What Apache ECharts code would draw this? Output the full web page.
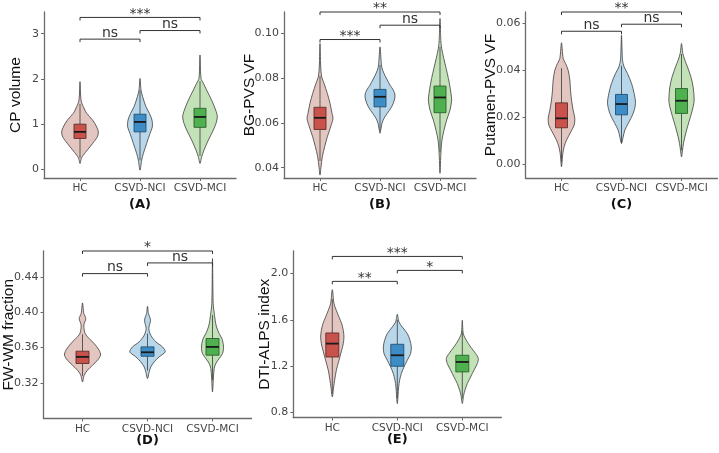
<!DOCTYPE html>
<html><head><meta charset="utf-8">
<script src="https://cdn.jsdelivr.net/npm/echarts@6/dist/echarts.min.js"></script>
<style>html,body{margin:0;padding:0;background:#fff}#c{width:719px;height:453px}</style>
</head><body><div id="c"></div>
<script>
// ---------- data ----------
const categories = ['HC', 'CSVD-NCI', 'CSVD-MCI'];
const panelLabels = ['(A)', '(B)', '(C)', '(D)', '(E)'];
const yTitles = ['CP volume', 'BG-PVS VF', 'Putamen-PVS VF', 'FW-WM fraction', 'DTI-ALPS index'];

const yTicksA = [0, 1, 2, 3];
const yTicksB = [0.04, 0.06, 0.08, 0.10];
const yTicksC = [0.00, 0.02, 0.04, 0.06];
const yTicksD = [0.32, 0.36, 0.40, 0.44];
const yTicksE = [0.8, 1.2, 1.6, 2.0];

// violin outlines: [value, half-width in category units]
const violinA_HC  = [[0.13,0],[0.243,0.022],[0.316,0.056],[0.427,0.122],[0.575,0.211],[0.72,0.289],[0.83,0.306],[0.94,0.278],[1.09,0.211],[1.24,0.111],[1.385,0.056],[1.53,0.017],[1.94,0]];
const violinA_NCI = [[-0.015,0],[0.206,0.028],[0.354,0.056],[0.575,0.111],[0.796,0.167],[0.94,0.206],[1.09,0.2],[1.24,0.156],[1.385,0.1],[1.606,0.044],[1.754,0.017],[2.01,0]];
const violinA_MCI = [[0.13,0],[0.279,0.028],[0.427,0.067],[0.648,0.139],[0.869,0.222],[1.018,0.267],[1.164,0.289],[1.312,0.261],[1.53,0.194],[1.754,0.111],[1.903,0.056],[2.013,0.017],[2.53,0]];

const violinB_HC  = [[0.0367,0],[0.0404,0.017],[0.0449,0.039],[0.0494,0.078],[0.0538,0.122],[0.0583,0.178],[0.0621,0.217],[0.0643,0.2],[0.0688,0.167],[0.0732,0.122],[0.0777,0.067],[0.0806,0.028],[0.085,0.012],[0.0955,0]];
const violinB_NCI = [[0.0554,0],[0.0576,0.017],[0.0598,0.033],[0.0621,0.067],[0.0643,0.122],[0.0672,0.194],[0.0702,0.239],[0.0725,0.25],[0.0747,0.222],[0.0769,0.167],[0.0792,0.122],[0.0821,0.067],[0.0851,0.028],[0.094,0]];
const violinB_MCI = [[0.0375,0],[0.0479,0.017],[0.0524,0.033],[0.0568,0.067],[0.0613,0.111],[0.0658,0.167],[0.0702,0.194],[0.0732,0.183],[0.0777,0.156],[0.0821,0.122],[0.0866,0.083],[0.0911,0.044],[0.0955,0.017],[0.1067,0]];

const violinC_HC  = [[-0.001,0],[0.0047,0.022],[0.0075,0.044],[0.0103,0.083],[0.0139,0.156],[0.0167,0.211],[0.0196,0.222],[0.0231,0.194],[0.0274,0.167],[0.0316,0.15],[0.0359,0.139],[0.0401,0.111],[0.0430,0.067],[0.0451,0.028],[0.0518,0]];
const violinC_NCI = [[0.0089,0],[0.0117,0.028],[0.0146,0.056],[0.0174,0.111],[0.0217,0.194],[0.0260,0.233],[0.0302,0.211],[0.0345,0.167],[0.0387,0.1],[0.0415,0.044],[0.0444,0.017],[0.055,0]];
const violinC_MCI = [[0.0032,0],[0.0061,0.017],[0.0089,0.033],[0.0117,0.056],[0.0160,0.1],[0.0203,0.15],[0.0245,0.194],[0.0274,0.211],[0.0330,0.194],[0.0373,0.156],[0.0415,0.1],[0.0444,0.056],[0.0472,0.022],[0.0515,0]];

const violinD_HC  = [[0.3211,0],[0.3287,0.026],[0.3344,0.077],[0.3400,0.154],[0.3457,0.231],[0.3514,0.277],[0.3570,0.256],[0.3646,0.179],[0.3703,0.103],[0.3759,0.041],[0.3854,0.021],[0.3929,0.051],[0.3986,0.021],[0.4106,0]];
const violinD_NCI = [[0.3249,0],[0.3325,0.026],[0.3381,0.051],[0.3438,0.103],[0.3495,0.179],[0.3551,0.272],[0.3608,0.231],[0.3665,0.128],[0.3740,0.051],[0.3816,0.021],[0.3910,0.046],[0.3986,0.015],[0.4068,0]];
const violinD_MCI = [[0.3098,0],[0.3268,0.015],[0.3363,0.026],[0.3420,0.051],[0.3476,0.103],[0.3532,0.154],[0.3589,0.169],[0.3646,0.164],[0.3703,0.144],[0.3759,0.103],[0.3834,0.062],[0.3910,0.041],[0.4023,0.021],[0.4099,0.01],[0.4608,0]];

const violinE_HC  = [[0.932,0],[1.019,0.021],[1.077,0.036],[1.163,0.062],[1.250,0.103],[1.336,0.144],[1.394,0.169],[1.451,0.179],[1.509,0.169],[1.567,0.144],[1.624,0.103],[1.682,0.062],[1.740,0.026],[1.861,0]];
const violinE_NCI = [[0.875,0],[1.019,0.021],[1.077,0.036],[1.135,0.062],[1.192,0.103],[1.250,0.154],[1.308,0.205],[1.365,0.215],[1.423,0.195],[1.481,0.154],[1.538,0.077],[1.581,0.026],[1.648,0]];
const violinE_MCI = [[0.875,0],[0.947,0.021],[0.990,0.041],[1.048,0.077],[1.105,0.128],[1.163,0.179],[1.221,0.231],[1.265,0.246],[1.308,0.205],[1.365,0.128],[1.423,0.062],[1.481,0.015],[1.596,0]];

// box stats: [whisker low, Q1, median, Q3, whisker high]
const boxA = [[0.25,0.685,0.83,1.0,1.45],[0.2,0.83,1.05,1.22,1.75],[0.3,0.93,1.16,1.35,1.95]];
const boxB = [[0.043,0.0571,0.0623,0.0670,0.081],[0.0565,0.0672,0.0717,0.075,0.086],[0.047,0.0646,0.0714,0.0765,0.094]];
const boxC = [[0.001,0.0156,0.0196,0.0262,0.041],[0.009,0.0211,0.0257,0.0298,0.042],[0.006,0.0217,0.0271,0.0323,0.047]];
const boxD = [[0.328,0.342,0.3495,0.3559,0.375],[0.334,0.3502,0.3547,0.3608,0.376],[0.323,0.3514,0.3608,0.3703,0.397]];
const boxE = [[0.96,1.278,1.394,1.486,1.78],[0.92,1.198,1.293,1.388,1.60],[0.92,1.149,1.235,1.293,1.50]];

// significance brackets (pairs of groups, heights, labels)
const bracketPairs = [[1, 2], [2, 3], [1, 3]];
const bracketYA = [2.88, 3.07, 3.36];     const bracketLabA = ['ns', 'ns', '***'];
const bracketYB = [0.0973, 0.1037, 0.1096]; const bracketLabB = ['***', 'ns', '**'];
const bracketYC = [0.0567, 0.0597, 0.0649]; const bracketLabC = ['ns', 'ns', '**'];
const bracketYD = [0.4438, 0.4559, 0.4694]; const bracketLabD = ['ns', 'ns', '*'];
const bracketYE = [1.933, 2.028, 2.149];    const bracketLabE = ['**', '*', '***'];

// ---------- layout / style ----------
const panels = [
  {grid:{left:44, top:12, width:192, height:166}, ymin:-0.19, ymax:3.48, ticks:yTicksA, dec:0, nameGap:20, labGap:20.5,
   violins:[violinA_HC, violinA_NCI, violinA_MCI], box:boxA, by:bracketYA, bl:bracketLabA},
  {grid:{left:284, top:12, width:192, height:166}, ymin:0.0354, ymax:0.1096, ticks:yTicksB, dec:2, nameGap:26, labGap:20.5,
   violins:[violinB_HC, violinB_NCI, violinB_MCI], box:boxB, by:bracketYB, bl:bracketLabB},
  {grid:{left:525.5, top:12, width:192, height:166}, ymin:-0.0058, ymax:0.0649, ticks:yTicksC, dec:2, nameGap:27, labGap:20.5,
   violins:[violinC_HC, violinC_NCI, violinC_MCI], box:boxC, by:bracketYC, bl:bracketLabC},
  {grid:{left:43.5, top:251, width:208, height:167.5}, ymin:0.2797, ymax:0.4694, ticks:yTicksD, dec:2, nameGap:26.5, labGap:15.5,
   violins:[violinD_HC, violinD_NCI, violinD_MCI], box:boxD, by:bracketYD, bl:bracketLabD},
  {grid:{left:293.3, top:251, width:208, height:166.5}, ymin:0.754, ymax:2.196, ticks:yTicksE, dec:1, nameGap:21, labGap:15.5,
   violins:[violinE_HC, violinE_NCI, violinE_MCI], box:boxE, by:bracketYE, bl:bracketLabE}
];
const violinFill = ['#e4c6c1', '#b8d7ea', '#c3e2b8'];
const boxFill = ['#c9534c', '#3d8cc6', '#4eb04f'];
const boxStroke = ['#5a2f2c', '#24506f', '#2d612e'];
const axisColor = '#6b6b6b';
const tickFont = 'DejaVu Sans';

const grids = [], xAxes = [], yAxes = [], series = [];
panels.forEach((P, i) => {
  grids.push(Object.assign({containLabel:false}, P.grid));
  xAxes.push({
    type:'value', gridIndex:i, min:0.4, max:3.6,
    splitLine:{show:false},
    axisLine:{show:true, onZero:false, lineStyle:{color:axisColor, width:1.3}},
    axisTick:{show:true, customValues:[1,2,3], length:3, lineStyle:{color:axisColor, width:1}},
    axisLabel:{customValues:[1,2,3], formatter:v => categories[Math.round(v)-1], color:'#454545',
      fontFamily:tickFont, fontSize:10.5, margin:5},
    name:panelLabels[i], nameLocation:'middle', nameGap:P.labGap, nameMoveOverlap:false,
    nameTextStyle:{fontFamily:tickFont, fontWeight:'bold', fontSize:13, color:'#111'}
  });
  yAxes.push({
    type:'value', gridIndex:i, min:P.ymin, max:P.ymax,
    splitLine:{show:false},
    axisLine:{show:true, onZero:false, lineStyle:{color:axisColor, width:1.3}},
    axisTick:{show:true, customValues:P.ticks, length:3, lineStyle:{color:axisColor, width:1}},
    axisLabel:{customValues:P.ticks, formatter:v => Number(v).toFixed(P.dec), color:'#454545',
      fontFamily:tickFont, fontSize:11, margin:5},
    name:yTitles[i], nameLocation:'middle', nameGap:P.nameGap, nameMoveOverlap:false,
    nameTextStyle:{fontFamily:'Liberation Sans', fontSize:15.5, color:'#111'}
  });
  series.push({
    type:'custom', xAxisIndex:i, yAxisIndex:i, clip:false,
    data:[[1, P.box[0][2]], [2, P.box[1][2]], [3, P.box[2][2]]],
    renderItem:(params, api) => {
      const g = params.dataIndex, cx = g + 1, prof = P.violins[g], b = P.box[g];
      const right = prof.map(([v, w]) => api.coord([cx + w, v]));
      const left = prof.slice(1, -1).reverse().map(([v, w]) => api.coord([cx - w, v]));
      const bw = 0.1;
      const t = api.coord([cx - bw, b[3]]), u = api.coord([cx + bw, b[1]]);
      const m1 = api.coord([cx - bw, b[2]]), m2 = api.coord([cx + bw, b[2]]);
      const lo = api.coord([cx, b[0]]), hi = api.coord([cx, b[4]]);
      return {type:'group', children:[
        {type:'polygon', shape:{points:right.concat(left), smooth:0.3},
         style:{fill:violinFill[g], stroke:'#3d3d3d', lineWidth:0.8}},
        {type:'line', shape:{x1:lo[0], y1:lo[1], x2:hi[0], y2:hi[1]},
         style:{stroke:'#4a4a4a', lineWidth:0.9}},
        {type:'rect', shape:{x:t[0], y:t[1], width:u[0]-t[0], height:u[1]-t[1]},
         style:{fill:boxFill[g], stroke:boxStroke[g], lineWidth:0.9}},
        {type:'line', shape:{x1:m1[0], y1:m1[1], x2:m2[0], y2:m2[1]},
         style:{stroke:'#1a1a1a', lineWidth:1.8}}
      ]};
    }
  });
  series.push({
    type:'custom', xAxisIndex:i, yAxisIndex:i, clip:false,
    data:bracketPairs.map((p, k) => [p[0], p[1], P.by[k]]),
    renderItem:(params, api) => {
      const k = params.dataIndex, p = bracketPairs[k], lab = P.bl[k];
      const a = api.coord([p[0], P.by[k]]), c = api.coord([p[1], P.by[k]]);
      const star = lab.indexOf('*') >= 0;
      return {type:'group', children:[
        {type:'polyline', shape:{points:[[a[0], a[1]+3], [a[0], a[1]], [c[0], c[1]], [c[0], c[1]+3]]},
         style:{stroke:'#333', lineWidth:1, fill:null}},
        {type:'text', style:{text:lab, x:(a[0]+c[0])/2, y:a[1] - (star ? 3.5 : 6),
          align:'center', verticalAlign:'middle', font:'14px "DejaVu Sans"', fill:'#333'}}
      ]};
    }
  });
});

const chart = echarts.init(document.getElementById('c'));
chart.setOption({backgroundColor:'#fff', animation:false, grid:grids, xAxis:xAxes, yAxis:yAxes, series:series});
</script></body></html>
